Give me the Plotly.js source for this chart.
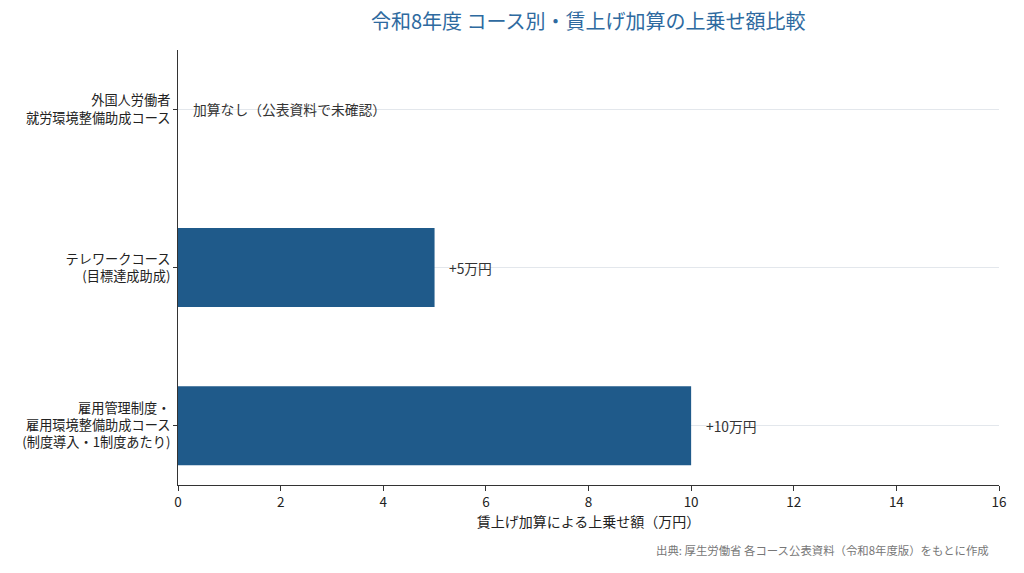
<!DOCTYPE html>
<html>
<head>
<meta charset="utf-8">
<script src="https://cdn.plot.ly/plotly-3.0.1.min.js"></script>
<style>
  html, body { margin: 0; padding: 0; background: #fff; }
  #chart { width: 1024px; height: 573px; }
</style>
</head>
<body>
<div id="chart"></div>
<script>
// ------------------------------------------------------------
// データ（下から上の順）
// ------------------------------------------------------------
const courses = [
    '雇用管理制度・<br>雇用環境整備助成コース<br>(制度導入・1制度あたり)',
    'テレワークコース<br>(目標達成助成)',
    '外国人労働者<br>就労環境整備助成コース'
]
const bonusValues = [10, 5, 0]
const bonusLabels = ['+10万円', '+5万円', '加算なし（公表資料で未確認）']
const xTicks = [0, 2, 4, 6, 8, 10, 12, 14, 16]

const FONT = '"Noto Sans CJK JP", "Noto Sans", sans-serif'

// 値ラベル
const valueNotes = courses.map(function (c, i) {
    return {
        x: bonusValues[i] + 0.25,
        y: c,
        xref: 'x',
        yref: 'y',
        text: bonusLabels[i],
        showarrow: false,
        xanchor: 'left',
        yanchor: 'middle',
        font: { family: FONT, size: 13.8, color: '#333333' }
    }
})

// 出典
valueNotes.push({
    x: 1,
    y: -0.15,
    xref: 'paper',
    yref: 'paper',
    xshift: -8,
    text: '出典: 厚生労働省 各コース公表資料（令和8年度版）をもとに作成',
    showarrow: false,
    xanchor: 'right',
    yanchor: 'middle',
    font: { family: FONT, size: 11.4, color: '#777777' }
})

const trace = {
    type: 'bar',
    orientation: 'h',
    x: bonusValues,
    y: courses,
    width: 0.5,
    marker: { color: '#1f5a8a' },
    hoverinfo: 'skip'
}

const layout = {
    width: 1024,
    height: 573,
    margin: { l: 178, r: 25, t: 50, b: 88 },
    paper_bgcolor: '#ffffff',
    plot_bgcolor: '#ffffff',
    font: { family: FONT, size: 13, color: '#222222' },
    showlegend: false,
    title: {
        text: '令和8年度 コース別・賃上げ加算の上乗せ額比較',
        font: { family: FONT, size: 20, color: '#2e6aa0' },
        x: 0.5745,
        xanchor: 'center',
        y: 0.961,
        yanchor: 'middle'
    },
    xaxis: {
        range: [0, 16],
        tickvals: xTicks,
        ticktext: xTicks.map(String),
        showgrid: false,
        zeroline: false,
        showline: true,
        linecolor: '#333333',
        linewidth: 1,
        ticks: 'outside',
        ticklen: 5,
        tickcolor: '#333333',
        tickfont: { family: FONT, size: 13.5, color: '#222222' },
        title: {
            text: '賃上げ加算による上乗せ額（万円）',
            font: { family: FONT, size: 14, color: '#222222' },
            standoff: 6
        }
    },
    yaxis: {
        type: 'category',
        range: [-0.375, 2.375],
        showgrid: true,
        gridcolor: '#e3e7ec',
        gridwidth: 1,
        zeroline: false,
        showline: true,
        linecolor: '#333333',
        linewidth: 1,
        ticks: 'outside',
        ticklen: 4,
        tickcolor: '#333333',
        tickfont: { family: FONT, size: 13.2, color: '#222222' }
    },
    annotations: valueNotes
}

Plotly.newPlot('chart', [trace], layout, { displayModeBar: false, staticPlot: true })
</script>
</body>
</html>
